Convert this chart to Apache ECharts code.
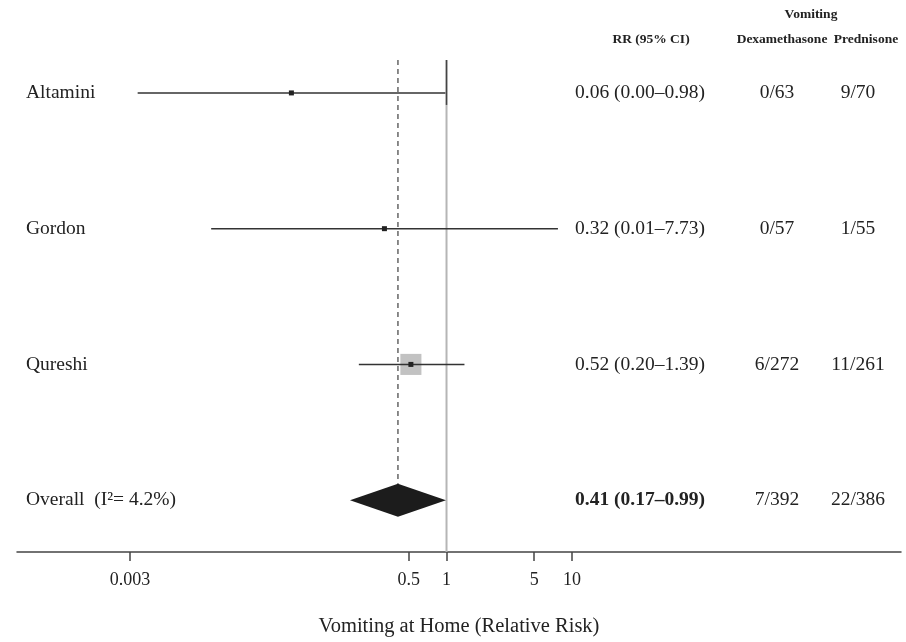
<!DOCTYPE html>
<html><head><meta charset="utf-8">
<script src="https://cdn.jsdelivr.net/npm/echarts@6/dist/echarts.min.js"></script>
<style>html,body{margin:0;padding:0;background:#fff}#c{width:906px;height:642px}</style>
</head><body><div id="c"></div>
<script>
// ---- data ----
const studies = ['Altamini', 'Gordon', 'Qureshi'];
const studyRR = [0.058, 0.32, 0.52];
const studyLow = [0.00345, 0.0133, 0.20];
const studyHigh = [0.98, 7.73, 1.39];
const studyWeight = [2, 2, 96];
const overallLabel = 'Overall  (I\u00B2= 4.2%)';
const overallRR = [0.41];
const overallLow = [0.17];
const overallHigh = [0.99];
const rrText = ['0.06 (0.00\u20130.98)', '0.32 (0.01\u20137.73)', '0.52 (0.20\u20131.39)', '0.41 (0.17\u20130.99)'];
const dexEvents = ['0/63', '0/57', '6/272', '7/392'];
const predEvents = ['9/70', '1/55', '11/261', '22/386'];
const tickValues = [0.003, 0.5, 1, 5, 10];
const tickLabels = ['0.003', '0.5', '1', '5', '10'];
const axisTitle = 'Vomiting at Home (Relative Risk)';
const headerGroup = 'Vomiting';
const headerRR = 'RR (95% CI)';
const headerDex = 'Dexamethasone';
const headerPred = 'Prednisone';

// ---- chart ----
const FONT = '"Liberation Serif", "Times New Roman", serif';
const TXT = '#222';
const Y_MIN = -0.2426, Y_MAX = 3.382;
const rowLabels = studies.concat([overallLabel]);

const chart = echarts.init(document.getElementById('c'), null, {renderer: 'canvas'});

const option = {
  animation: false,
  backgroundColor: '#fff',
  grid: {left: 17, right: 5, top: 60, bottom: 89},
  xAxis: {
    type: 'log',
    logBase: 10,
    min: Math.pow(10, -3.424),
    max: Math.pow(10, 3.623),
    splitLine: {show: false},
    axisLine: {show: true, onZero: false, lineStyle: {color: '#444', width: 1.5}},
    axisTick: {show: true, length: 9, lineStyle: {color: '#444', width: 1.5}, customValues: tickValues},
    axisLabel: {
      customValues: tickValues,
      margin: 19,
      fontFamily: FONT, fontSize: 18, color: TXT,
      formatter: function (v) {
        for (let i = 0; i < tickValues.length; i++) {
          if (Math.abs(tickValues[i] - v) < 1e-9 * Math.max(1, v)) return tickLabels[i];
        }
        return '';
      }
    },
    name: axisTitle,
    nameLocation: 'middle',
    nameGap: 64,
    nameTextStyle: {fontFamily: FONT, fontSize: 20.5, color: TXT}
  },
  yAxis: {
    type: 'value', inverse: true, min: Y_MIN, max: Y_MAX, show: false,
    axisLine: {onZero: false}
  },
  graphic: [
    {type: 'text', x: 811, y: 15, style: {text: headerGroup, align: 'center', verticalAlign: 'middle', font: 'bold 13.5px ' + FONT, fill: TXT}},
    {type: 'text', x: 651, y: 40, style: {text: headerRR, align: 'center', verticalAlign: 'middle', font: 'bold 13.5px ' + FONT, fill: TXT}},
    {type: 'text', x: 782, y: 40, style: {text: headerDex, align: 'center', verticalAlign: 'middle', font: 'bold 13.5px ' + FONT, fill: TXT}},
    {type: 'text', x: 866, y: 40, style: {text: headerPred, align: 'center', verticalAlign: 'middle', font: 'bold 13.5px ' + FONT, fill: TXT}}
  ],
  series: [
    // reference line at RR = 1
    {
      type: 'custom',
      silent: true,
      data: [[1, 0]],
      encode: {x: 0, y: 1},
      renderItem: function (params, api) {
        const top = api.coord([1, Y_MIN]);
        const bot = api.coord([1, Y_MAX]);
        const r0 = api.coord([1, 0]);
        return {type: 'group', children: [
          {type: 'line', shape: {x1: top[0], y1: top[1], x2: bot[0], y2: bot[1]}, style: {stroke: '#b5b5b5', lineWidth: 2}},
          {type: 'line', shape: {x1: top[0], y1: top[1], x2: top[0], y2: r0[1] + 12}, style: {stroke: '#444', lineWidth: 1.5}}
        ]};
      },
      z: 1
    },
    // overall diamond + dashed line
    {
      type: 'custom',
      silent: true,
      data: overallRR.map((v, i) => [v, studies.length, overallLow[i], overallHigh[i]]),
      encode: {x: 0, y: 1},
      renderItem: function (params, api) {
        const y = api.value(1);
        const p = api.coord([api.value(0), y]);
        const l = api.coord([api.value(2), y]);
        const h = api.coord([api.value(3), y]);
        const top = api.coord([api.value(0), Y_MIN]);
        const hh = 16.5;
        return {type: 'group', children: [
          {type: 'line', shape: {x1: p[0], y1: top[1], x2: p[0], y2: p[1] - hh}, style: {stroke: '#666', lineWidth: 1.5, lineDash: [5, 4]}},
          {type: 'polygon', shape: {points: [[l[0], p[1]], [p[0], p[1] - hh], [h[0], p[1]], [p[0], p[1] + hh]]}, style: {fill: '#1c1c1c'}}
        ]};
      },
      z: 3
    },
    // study estimates
    {
      type: 'custom',
      silent: true,
      data: studies.map((s, i) => [studyRR[i], i, studyLow[i], studyHigh[i], studyWeight[i]]),
      encode: {x: 0, y: 1},
      renderItem: function (params, api) {
        const y = api.value(1);
        const p = api.coord([api.value(0), y]);
        const l = api.coord([api.value(2), y]);
        const h = api.coord([api.value(3), y]);
        const side = Math.sqrt(api.value(4)) * 2.15;
        return {type: 'group', children: [
          {type: 'rect', shape: {x: p[0] - side / 2, y: p[1] - side / 2, width: side, height: side}, style: {fill: '#c2c2c2'}},
          {type: 'line', shape: {x1: l[0], y1: p[1], x2: h[0], y2: p[1]}, style: {stroke: '#333', lineWidth: 1.5}},
          {type: 'rect', shape: {x: p[0] - 2.5, y: p[1] - 2.5, width: 5, height: 5}, style: {fill: '#222'}}
        ]};
      },
      z: 4
    },
    // row texts
    {
      type: 'custom',
      silent: true,
      data: rowLabels.map((s, i) => [1, i]),
      encode: {x: 0, y: 1},
      renderItem: function (params, api) {
        const i = params.dataIndex;
        const y = api.coord([1, api.value(1)])[1];
        const isOverall = i === studies.length;
        const base = {verticalAlign: 'middle', fill: TXT};
        return {type: 'group', children: [
          {type: 'text', x: 26, y: y, style: Object.assign({text: rowLabels[i], align: 'left', font: '19.5px ' + FONT}, base)},
          {type: 'text', x: 640, y: y, style: Object.assign({text: rrText[i], align: 'center', font: (isOverall ? 'bold ' : '') + '19.5px ' + FONT}, base)},
          {type: 'text', x: 777, y: y, style: Object.assign({text: dexEvents[i], align: 'center', font: '19.5px ' + FONT}, base)},
          {type: 'text', x: 858, y: y, style: Object.assign({text: predEvents[i], align: 'center', font: '19.5px ' + FONT}, base)}
        ]};
      },
      z: 5
    }
  ]
};
chart.setOption(option);
</script>
</body></html>
